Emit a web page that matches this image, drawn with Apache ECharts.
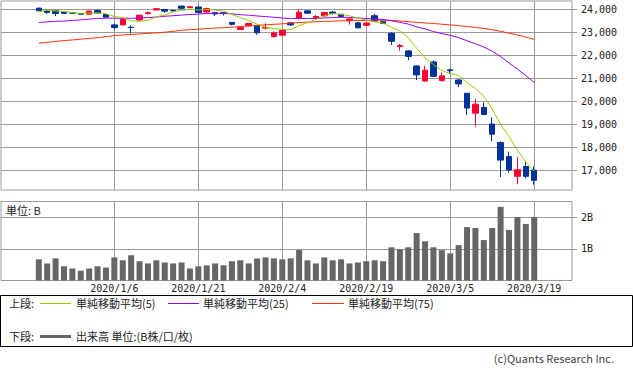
<!DOCTYPE html>
<html><head><meta charset="utf-8">
<script src="https://cdn.jsdelivr.net/npm/echarts@6/dist/echarts.min.js"></script>
<style>html,body{margin:0;padding:0;background:#fff}#c{width:633px;height:372px}</style>
</head><body><div id="c"></div>
<script>
const dates = ['2019/12/18','2019/12/19','2019/12/20','2019/12/23','2019/12/24','2019/12/25','2019/12/26','2019/12/27','2019/12/30',
'2020/1/6','2020/1/7','2020/1/8','2020/1/9','2020/1/10','2020/1/14','2020/1/15','2020/1/16','2020/1/17','2020/1/20','2020/1/21',
'2020/1/22','2020/1/23','2020/1/24','2020/1/27','2020/1/28','2020/1/29','2020/1/30','2020/1/31','2020/2/3','2020/2/4',
'2020/2/5','2020/2/6','2020/2/7','2020/2/10','2020/2/12','2020/2/13','2020/2/14','2020/2/17','2020/2/18','2020/2/19',
'2020/2/20','2020/2/21','2020/2/25','2020/2/26','2020/2/27','2020/2/28','2020/3/2','2020/3/3','2020/3/4','2020/3/5',
'2020/3/6','2020/3/9','2020/3/10','2020/3/11','2020/3/12','2020/3/13','2020/3/16','2020/3/17','2020/3/18','2020/3/19'];
const padBefore = ['_a1','_a2','_a3','_a4'];
const padAfter = ['_b1','_b2','_b3','_b4'];
const tickDates = ['2020/1/6','2020/1/21','2020/2/4','2020/2/19','2020/3/5','2020/3/19'];
const priceTicks = [17000,18000,19000,20000,21000,22000,23000,24000];
const volTicks = [1,2];

const open = [24050,23925,23940,23880,23850,23810,23785,23950,23770,23319,
23320,23217,23530,23813,23969,23990,23950,24140,24070,24100,
23882,23850,23846,23428,23120,23280,23289,23180,22810,22870,
23410,23600,23930,23620,23710,23880,23780,23500,23409,23300,
23720,23460,22953,22383,22188,21530,20874,21705,20897,21365,
20920,20343,19475,19730,19000,18200,17586,16726,17154,16995];
const close = [23934,23864,23816,23821,23830,23782,23924,23837,23656,23204,
23575,23204,23739,23850,24025,23916,23933,24041,24110,23864,
24031,23795,23827,23343,23216,23379,22977,23205,22972,23084,
23320,23873,23828,23686,23861,23828,23688,23580,23194,23400,
23479,23386,22605,22426,21948,21142,21344,21082,21100,21329,
20749,19698,19867,19416,18559,17431,17002,17011,16726,16552];
const low = [23925,23800,23710,23805,23800,23765,23780,23830,23620,23115,
23299,22951,23506,23761,23951,23843,23860,24000,24050,23850,
23851,23701,23732,23296,23100,23245,22892,23120,22776,22830,
23270,23542,23790,23580,23700,23760,23620,23330,23164,23280,
23440,23350,22450,22200,21780,20916,20834,21050,20850,21200,
20613,19400,18891,19390,18250,16690,16880,16378,16640,16358];
const high = [24060,23990,23945,23885,23860,23815,23940,23990,23775,23365,
23577,23303,23767,23903,24059,24000,23970,24150,24120,24110,
24068,23890,23863,23446,23240,23390,23311,23390,23035,23135,
23430,23995,23940,23749,23870,23920,23790,23600,23454,23434,
23800,23520,22997,22493,22222,21560,21535,21780,21245,21400,
20961,20347,20090,19950,19300,18250,17800,17557,17396,17160];
const ma5 = [23880,23968,23927,23901,23854,23823,23835,23839,23807,23681,
23640,23496,23476,23515,23679,23747,23893,23953,24000,23968,
23991,23963,23920,23772,23643,23512,23349,23224,23150,23124,
23112,23291,23416,23558,23714,23815,23778,23717,23619,23527,
23457,23397,23213,23060,22769,22302,21893,21589,21324,21200,
21121,20792,20549,20212,19658,18995,18455,17884,17346,16945];
const ma25 = [23424,23453,23473,23489,23511,23536,23572,23601,23615,23609,
23614,23606,23624,23637,23662,23694,23719,23746,23773,23791,
23816,23831,23823,23799,23765,23743,23707,23683,23649,23619,
23600,23598,23598,23599,23625,23636,23655,23646,23620,23595,
23577,23556,23498,23432,23355,23240,23142,23032,22942,22867,
22761,22630,22497,22355,22174,21938,21663,21391,21112,20820];
const ma75 = [22522,22560,22600,22635,22665,22696,22730,22765,22810,22852,
22880,22905,22926,22950,22975,23000,23040,23087,23110,23130,
23160,23180,23200,23220,23250,23275,23300,23320,23345,23365,
23395,23420,23440,23455,23470,23485,23498,23505,23512,23518,
23522,23522,23515,23490,23460,23430,23405,23380,23350,23317,
23285,23250,23210,23165,23110,23040,22960,22880,22790,22685];
const volume = [0.67,0.54,0.70,0.45,0.38,0.31,0.38,0.45,0.41,0.73,
0.64,0.80,0.61,0.54,0.64,0.57,0.54,0.57,0.38,0.45,
0.48,0.54,0.48,0.61,0.64,0.54,0.70,0.73,0.70,0.67,
0.70,0.97,0.64,0.54,0.73,0.64,0.67,0.54,0.57,0.61,
0.64,0.61,1.05,0.99,1.05,1.50,1.24,1.05,0.96,0.86,
1.12,1.69,1.66,1.28,1.66,2.33,1.60,2.01,1.79,2.01];

const cats = padBefore.concat(dates, padAfter);
const isTick = (i, v) => tickDates.indexOf(v) >= 0;
const GRID = '#999';
const RED = '#ff0033', BLUE = '#003399';
const C5 = '#99cc00', C25 = '#9900ff', C75 = '#ff3300';
const CJK = "'Noto Sans CJK JP', sans-serif";
const NUM = "'DejaVu Sans Mono', monospace";

const chart = echarts.init(document.getElementById('c'), null, {renderer: 'svg', width: 633, height: 372});

function xAxisFor(gi, showLabel) {
  return {
    type: 'category', gridIndex: gi, data: cats, boundaryGap: true,
    axisLine: {show: false}, axisTick: {show: false},
    axisLabel: {show: showLabel, interval: isTick, margin: 3, fontSize: 10, fontFamily: NUM, color: '#222'},
    splitLine: {show: true, interval: isTick, alignWithLabel: true, lineStyle: {color: GRID, width: 1}}
  };
}

const option = {
  animation: false,
  backgroundColor: '#fff',
  grid: [
    {left: 1, top: 1, width: 571, height: 189, show: true, borderColor: GRID, borderWidth: 1, backgroundColor: 'transparent'},
    {left: 1, top: 201.5, width: 571, height: 79, show: true, borderColor: GRID, borderWidth: 1, backgroundColor: 'transparent'}
  ],
  xAxis: [xAxisFor(0, false), xAxisFor(1, true)],
  yAxis: [
    {type: 'value', gridIndex: 0, position: 'right', min: 16130, max: 24360, splitNumber: 8, minInterval: 1000, maxInterval: 1000,
     axisLine: {show: false},
     axisTick: {show: true, length: 5, lineStyle: {color: GRID}, customValues: priceTicks},
     axisLabel: {margin: 9, fontSize: 10, fontFamily: NUM, color: '#222', customValues: priceTicks,
       formatter: v => (v % 1000 === 0 ? v.toLocaleString('en-US') : '')},
     splitLine: {show: true, lineStyle: {color: GRID, width: 1}}},
    {type: 'value', gridIndex: 1, position: 'right', min: 0, max: 2.5, interval: 1,
     axisLine: {show: false},
     axisTick: {show: true, length: 5, lineStyle: {color: GRID}, customValues: volTicks},
     axisLabel: {margin: 9, fontSize: 10, fontFamily: NUM, color: '#222', customValues: volTicks,
       formatter: v => (v === 1 || v === 2 ? v + 'B' : '')},
     splitLine: {show: true, lineStyle: {color: GRID, width: 1}}}
  ],
  series: [
    {type: 'candlestick', xAxisIndex: 0, yAxisIndex: 0, barWidth: 6,
     encode: {x: 0, y: [1, 2, 3, 4]},
     data: dates.map((d, i) => [d, open[i], close[i], low[i], high[i]]),
     itemStyle: {color: RED, color0: BLUE, borderColor: RED, borderColor0: BLUE, borderWidth: 1}},
    {type: 'line', xAxisIndex: 0, yAxisIndex: 0, showSymbol: false, symbol: 'none',
     data: dates.map((d, i) => [d, ma75[i]]), lineStyle: {color: C75, width: 1}, itemStyle: {color: C75}},
    {type: 'line', xAxisIndex: 0, yAxisIndex: 0, showSymbol: false, symbol: 'none',
     data: dates.map((d, i) => [d, ma25[i]]), lineStyle: {color: C25, width: 1}, itemStyle: {color: C25}},
    {type: 'line', xAxisIndex: 0, yAxisIndex: 0, showSymbol: false, symbol: 'none',
     data: dates.map((d, i) => [d, ma5[i]]), lineStyle: {color: C5, width: 1}, itemStyle: {color: C5}},
    {type: 'bar', xAxisIndex: 1, yAxisIndex: 1, barWidth: 6,
     data: dates.map((d, i) => [d, volume[i]]), itemStyle: {color: '#666666'}}
  ],
  graphic: [
    {type: 'text', x: 6, y: 210, style: {text: '単位: B', fill: '#222', font: "11px " + CJK, verticalAlign: 'middle', textVerticalAlign: 'middle'}},
    {type: 'rect', shape: {x: 0.5, y: 295.5, width: 632, height: 51}, style: {fill: 'none', stroke: '#000', lineWidth: 1}},
    {type: 'text', x: 9, y: 303, style: {text: '上段:', fill: '#222', font: "11px " + CJK, verticalAlign: 'middle', textVerticalAlign: 'middle'}},
    {type: 'line', shape: {x1: 40, y1: 303.5, x2: 71, y2: 303.5}, style: {stroke: C5, lineWidth: 1}},
    {type: 'text', x: 76, y: 303, style: {text: '単純移動平均(5)', fill: '#222', font: "11px " + CJK, verticalAlign: 'middle', textVerticalAlign: 'middle'}},
    {type: 'line', shape: {x1: 168, y1: 303.5, x2: 199, y2: 303.5}, style: {stroke: C25, lineWidth: 1}},
    {type: 'text', x: 203, y: 303, style: {text: '単純移動平均(25)', fill: '#222', font: "11px " + CJK, verticalAlign: 'middle', textVerticalAlign: 'middle'}},
    {type: 'line', shape: {x1: 312, y1: 303.5, x2: 344, y2: 303.5}, style: {stroke: C75, lineWidth: 1}},
    {type: 'text', x: 348, y: 303, style: {text: '単純移動平均(75)', fill: '#222', font: "11px " + CJK, verticalAlign: 'middle', textVerticalAlign: 'middle'}},
    {type: 'text', x: 9, y: 336, style: {text: '下段:', fill: '#222', font: "11px " + CJK, verticalAlign: 'middle', textVerticalAlign: 'middle'}},
    {type: 'line', shape: {x1: 40, y1: 336.5, x2: 71, y2: 336.5}, style: {stroke: '#666666', lineWidth: 3}},
    {type: 'text', x: 76, y: 336, style: {text: '出来高 単位:(B株/口/枚)', fill: '#222', font: "11px " + CJK, verticalAlign: 'middle', textVerticalAlign: 'middle'}},
    {type: 'text', x: 614, y: 358, style: {text: '(c)Quants Research Inc.', fill: '#444', font: "11px " + CJK, align: 'right', textAlign: 'right', verticalAlign: 'middle', textVerticalAlign: 'middle'}}
  ]
};
chart.setOption(option);
</script>
</body></html>
